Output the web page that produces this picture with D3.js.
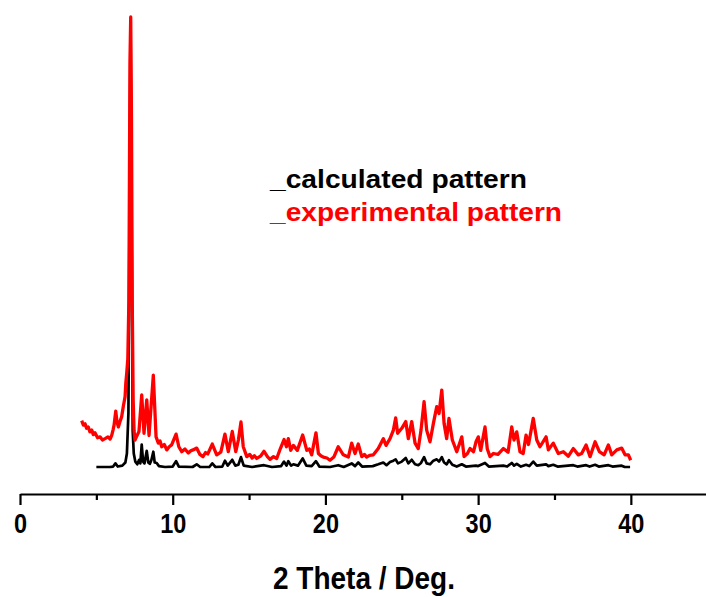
<!DOCTYPE html>
<html>
<head>
<meta charset="utf-8">
<script src="https://cdn.jsdelivr.net/npm/d3@7/dist/d3.min.js"></script>
<style>
  html, body { margin: 0; padding: 0; background: #fff; }
  svg { display: block; }
</style>
</head>
<body>
<svg id="chart" width="706" height="597"></svg>
<script>
// ---- data ----
const xTicksMajor = [0, 10, 20, 30, 40];
const xTicksMinor = [5, 15, 25, 35];
const xTitle = "2 Theta / Deg.";
const legendLabels = ["_calculated pattern", "_experimental pattern"];
const seriesColors = ["#000000", "#ff0000"];

// calculated pattern: [2theta, intensity]
const calcTheta = [5.0,5.9,6.1,6.25,6.4,6.7,6.9,7.0,7.1,7.17,7.24,7.31,7.38,7.45,7.55,7.68,7.8,7.88,7.97,8.06,8.15,8.3,8.4,8.5,8.6,8.73,8.82,8.95,9.1,9.5,10.0,10.22,10.4,11.3,11.57,11.8,12.4,12.59,12.8,13.25,13.42,13.6,13.9,14.1,14.3,14.47,14.65,15.2,15.98,16.5,17.1,17.29,17.45,17.57,17.75,17.9,18.2,18.51,18.75,19.1,19.38,19.6,20.3,20.84,21.2,21.72,21.94,22.15,22.4,23.1,23.46,23.79,24.0,24.23,24.45,24.6,24.75,25.0,25.26,25.43,25.65,25.87,26.08,26.26,26.46,26.63,26.85,27.07,27.29,27.44,27.62,27.77,27.94,28.09,28.31,28.6,28.93,29.2,29.86,30.0,30.45,30.7,31.65,31.9,32.2,32.35,32.53,32.8,33.14,33.35,33.61,33.84,34.45,34.6,34.92,35.2,36.23,36.5,37.07,37.3,37.66,37.9,38.53,38.8,39.4,39.6,39.95];
const calcInt = [0,0,0.1,0.8,0.1,0.3,1.0,3.0,12,55,99,55,8,3,1.2,0.6,1.6,0.8,5.0,1.2,0.8,3.6,1.0,0.7,1.5,3.4,1.0,0.9,0.2,0,0.1,1.3,0.1,0,0.6,0,0,0.8,0,0.1,1.4,0.3,1.6,0.3,0.5,2.2,0.3,0,0.4,0,0.2,1.2,0.3,1.3,0.3,0.6,0.3,1.9,0.3,0.2,1.3,0.1,0,0.4,0,0.8,0.2,1.0,0.1,0.2,0.6,1.0,0.4,1.1,1.4,1.7,0.8,1.2,2.0,0.8,1.6,0.6,0.4,0.9,2.2,0.8,0.6,1.4,1.7,1.2,2.2,1.0,0.6,1.5,0.5,0.1,0.6,0.1,0.3,0.2,0.9,0.1,0.3,0.1,0.9,0.3,0.7,0.1,0.5,0.2,1.2,0.3,0.6,0.2,0.5,0.1,0.4,0.1,0.4,0.1,0.5,0.1,0.4,0.1,0.3,0,0];

// experimental pattern: [2theta, intensity] (offset included)
const expTheta = [4.04,4.15,4.26,4.36,4.47,4.58,4.70,4.80,4.91,5.08,5.24,5.40,5.57,5.76,5.90,6.01,6.09,6.16,6.27,6.35,6.44,6.55,6.66,6.76,6.88,6.93,6.99,7.06,7.13,7.20,7.25,7.30,7.35,7.41,7.47,7.53,7.64,7.79,7.97,8.12,8.30,8.45,8.73,8.91,9.06,9.17,9.28,9.45,9.61,9.77,9.93,10.22,10.40,10.59,10.80,11.02,11.18,11.33,11.57,11.78,11.98,12.15,12.30,12.59,12.88,13.15,13.42,13.64,13.90,14.13,14.30,14.47,14.62,14.85,15.05,15.20,15.35,15.50,15.75,15.98,16.20,16.37,16.60,16.81,17.05,17.29,17.45,17.57,17.73,17.90,18.16,18.51,18.78,18.95,19.10,19.38,19.54,19.70,19.86,20.10,20.30,20.55,20.84,21.17,21.50,21.72,21.94,22.15,22.38,22.55,22.70,22.90,23.14,23.46,23.79,23.97,24.23,24.45,24.60,24.73,25.00,25.26,25.43,25.65,25.87,26.08,26.26,26.46,26.63,26.85,27.07,27.29,27.44,27.62,27.77,27.94,28.09,28.31,28.60,28.93,29.08,29.30,29.47,29.70,29.86,30.01,30.17,30.45,30.60,30.78,31.00,31.30,31.65,31.96,32.20,32.35,32.53,32.74,32.95,33.14,33.30,33.61,33.84,34.05,34.45,34.60,34.92,35.25,35.58,35.91,36.23,36.56,36.78,37.07,37.33,37.66,37.94,38.25,38.53,38.75,39.08,39.40,39.62,39.84,39.99];
const expInt = [10.3,9.3,9.6,8.6,8.9,7.8,8.2,7.2,7.6,6.5,6.7,6.0,6.3,6.7,6.2,7.1,8.2,9.3,12.4,10.1,8.9,10.1,11.2,13.4,15.6,18.7,20.9,24,37,90,100,77,37,15,8,6.0,6.8,7.9,16.0,7.5,14.9,7.0,20.4,6.7,5.3,5.8,4.5,5.0,3.8,4.5,4.9,7.3,4.5,3.4,4.0,3.1,3.6,3.8,4.2,2.8,2.3,3.2,2.9,5.1,2.7,3.3,7.3,3.4,7.9,3.4,6.0,10.0,4.5,2.3,2.8,2.0,2.5,1.9,2.4,3.5,2.3,1.7,2.3,1.9,4.1,6.1,4.5,6.3,3.7,4.8,3.7,7.1,3.7,4.0,2.7,7.6,3.0,2.5,2.2,2.0,1.5,2.2,4.5,2.7,2.2,5.3,3.0,5.1,2.3,2.8,2.2,2.6,2.7,4.1,6.3,4.8,6.3,8.2,10.9,7.5,8.6,10.1,6.3,10.1,5.3,4.1,8.2,14.5,8.2,5.6,9.7,13.4,11.9,17.1,9.7,6.3,10.8,6.0,3.4,6.7,2.3,3.0,4.1,3.4,5.6,6.7,3.7,8.9,4.0,2.3,3.0,2.8,4.1,3.3,8.9,6.0,7.8,3.4,3.0,7.1,5.0,10.8,6.0,4.5,6.7,3.8,5.3,3.0,3.4,2.4,4.1,2.7,3.0,4.9,2.3,5.6,3.4,2.7,4.9,2.7,3.8,4.2,2.7,2.7,1.5];

// ---- drawing ----
const svg = d3.select("#chart");
const axisY = 494;
const x = d3.scaleLinear().domain([0, 45]).range([20, 707.2]);
const y = d3.scaleLinear().domain([0, 100]).range([467, 17]);

const calc = calcTheta.map((t, i) => [t, calcInt[i]]);
const exp = expTheta.map((t, i) => [t, expInt[i]]);
const line = d3.line().x(d => x(d[0])).y(d => y(d[1]));

svg.append("path").datum(calc)
  .attr("d", line).attr("fill", "none")
  .attr("stroke", seriesColors[0]).attr("stroke-width", 2.7)
  .attr("stroke-linejoin", "round");
svg.append("path").datum(exp)
  .attr("d", line).attr("fill", "none")
  .attr("stroke", seriesColors[1]).attr("stroke-width", 3.3)
  .attr("stroke-linejoin", "round");

// x axis
const axisMajor = d3.axisBottom(x).tickValues(xTicksMajor).tickSize(11).tickSizeOuter(0).tickFormat(d3.format("d"));
const gA = svg.append("g").attr("transform", `translate(0,${axisY})`).call(axisMajor);
gA.select(".domain").attr("stroke", "#000").attr("stroke-width", 2.2);
gA.selectAll(".tick line").attr("stroke", "#000").attr("stroke-width", 2.2);
gA.selectAll(".tick text")
  .attr("y", 19).attr("dy", "0.71em")
  .attr("transform", "scale(0.84,1)")
  .attr("fill", "#000")
  .style("font-family", "'Liberation Sans', Arial, sans-serif")
  .style("font-weight", "bold").style("font-size", "28px");

const axisMinor = d3.axisBottom(x).tickValues(xTicksMinor).tickSize(6).tickFormat("");
const gM = svg.append("g").attr("transform", `translate(0,${axisY})`).call(axisMinor);
gM.select(".domain").remove();
gM.selectAll(".tick line").attr("stroke", "#000").attr("stroke-width", 2.2);

svg.append("text")
  .attr("x", 273).attr("y", 589)
  .attr("textLength", 182).attr("lengthAdjust", "spacingAndGlyphs")
  .style("font-family", "'Liberation Sans', Arial, sans-serif")
  .style("font-weight", "bold").style("font-size", "31px")
  .text(xTitle);

// legend
const legendY = [188, 221];
const legendW = [257, 292];
legendLabels.forEach((lab, i) => {
  svg.append("text")
    .attr("x", 270).attr("y", legendY[i])
    .attr("fill", seriesColors[i])
    .attr("textLength", legendW[i]).attr("lengthAdjust", "spacingAndGlyphs")
    .style("font-family", "'Liberation Sans', Arial, sans-serif")
    .style("font-weight", "bold").style("font-size", "26px")
    .text(lab);
});
</script>
</body>
</html>
